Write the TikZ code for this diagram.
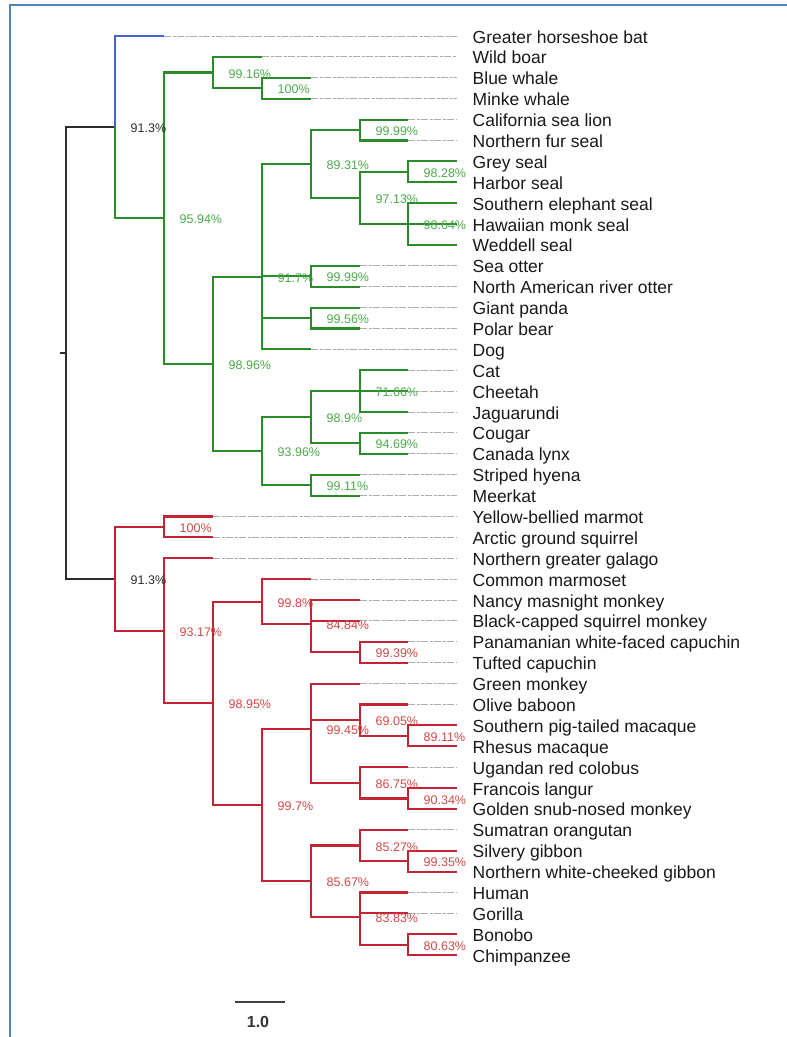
\documentclass[tikz,border=0pt]{standalone}
\usepackage{fontspec}
\setmainfont{Liberation Sans}
\definecolor{framecol}{RGB}{79,129,189}
\definecolor{kline}{RGB}{45,45,45}
\definecolor{bline}{RGB}{70,100,205}
\definecolor{gline}{RGB}{40,140,40}
\definecolor{gtext}{RGB}{75,170,75}
\definecolor{rline}{RGB}{195,35,50}
\definecolor{rtext}{RGB}{215,70,70}
\definecolor{leafcol}{RGB}{25,25,25}

\begin{document}
\begin{tikzpicture}[x=1pt,y=-1pt,
  branch/.style={line width=2.1pt},
  kbranch/.style={branch,draw=kline},
  bbranch/.style={branch,draw=bline},
  gbranch/.style={branch,draw=gline},
  rbranch/.style={branch,draw=rline},
  gap/.style={draw=gray!65,line width=1pt,dash pattern=on 7pt off 1.5pt on 3pt off 1.5pt},
  leaf/.style={anchor=west,inner xsep=15.5pt,inner ysep=0pt,text height=14pt,text depth=0pt,
    text=leafcol,font=\fontsize{17.5}{18}\selectfont},
  pct/.style={anchor=west,inner sep=0pt,xshift=15.5pt,yshift=-1pt,text height=9pt,text depth=0pt,
    font=\fontsize{12.5}{13}\selectfont},
  kpct/.style={pct,text=kline},
  gpct/.style={pct,text=gtext},
  rpct/.style={pct,text=rtext}]
\useasboundingbox (0,0) rectangle (787,1037);
\draw[framecol,line width=1.8pt] (787,5) -- (10,5) -- (10,1037);

% leaves: name/text/x of the end of the solid branch
\foreach \n/\lbl/\x [count=\i] in {
  bat/Greater horseshoe bat/164, boar/Wild boar/262, bluewhale/Blue whale/311,
  minke/Minke whale/311, calif/California sea lion/408, furseal/Northern fur seal/408,
  grey/Grey seal/457, harbor/Harbor seal/457, elephant/Southern elephant seal/457,
  monk/Hawaiian monk seal/457, weddell/Weddell seal/457, seaotter/Sea otter/360,
  riverotter/North American river otter/360, panda/Giant panda/360, polarbear/Polar bear/360,
  dog/Dog/311, cat/Cat/408, cheetah/Cheetah/408, jaguarundi/Jaguarundi/408,
  cougar/Cougar/408, lynx/Canada lynx/408, hyena/Striped hyena/360, meerkat/Meerkat/360,
  marmot/Yellow-bellied marmot/213, squirrel/Arctic ground squirrel/213,
  galago/Northern greater galago/213, marmoset/Common marmoset/311,
  nancy/Nancy masnight monkey/360, squirrelmonkey/Black-capped squirrel monkey/360,
  panamanian/Panamanian white-faced capuchin/408, tufted/Tufted capuchin/408,
  greenmonkey/Green monkey/360, baboon/Olive baboon/408,
  pigtailed/Southern pig-tailed macaque/457, rhesus/Rhesus macaque/457,
  colobus/Ugandan red colobus/408, langur/Francois langur/457,
  snubnosed/Golden snub-nosed monkey/457, orangutan/Sumatran orangutan/408,
  silvery/Silvery gibbon/457, whitecheeked/Northern white-cheeked gibbon/457,
  human/Human/408, gorilla/Gorilla/408, bonobo/Bonobo/457, chimp/Chimpanzee/457}{
  \node[leaf] (\n) at (457,{36+(\i-1)*20.89}) {\lbl};
  \coordinate (\n-tip) at (\x,{36+(\i-1)*20.89});
  \draw[gap] (\n-tip) -- (\n.west);
}

% branch points
\coordinate (stem) at (60,353);
\coordinate (root) at (66,353);
\coordinate (laur) at (115,127.2);
\coordinate (n95) at (164,218.3);
\coordinate (cetart) at (213,72.5);
\coordinate (whales) at (262,88.2);
\coordinate (carnivora) at (213,364);
\coordinate (caniform) at (262,276.9);
\coordinate (pinniped) at (311,164);
\coordinate (otariid) at (360,130);
\coordinate (phocid) at (360,197.9);
\coordinate (phocA) at (408,171.8);
\coordinate (phocB) at (408,224);
\coordinate (otters) at (311,276.2);
\coordinate (bears) at (311,318);
\coordinate (feliform) at (262,451.2);
\coordinate (felidae) at (311,417.2);
\coordinate (felA) at (360,391.1);
\coordinate (felB) at (360,443.4);
\coordinate (herpest) at (311,485.1);
\coordinate (euarch) at (115,578.9);
\coordinate (rodents) at (164,526.9);
\coordinate (primates) at (164,630.8);
\coordinate (anthro) at (213,703.4);
\coordinate (nwm) at (262,601.8);
\coordinate (cebid) at (311,624.4);
\coordinate (capuchin) at (360,652.3);
\coordinate (owm) at (262,805);
\coordinate (cerco) at (311,728.8);
\coordinate (papio) at (360,720.1);
\coordinate (macaca) at (408,735.8);
\coordinate (colob) at (360,782.8);
\coordinate (rhino) at (408,798.5);
\coordinate (hominoid) at (311,881.2);
\coordinate (hylo) at (360,845.5);
\coordinate (gibbons) at (408,861.2);
\coordinate (homin) at (360,916.9);
\coordinate (pan) at (408,944.7);

\draw[kbranch] (stem) -- (root);
\foreach \a/\b in {root/laur, root/euarch}
  \draw[kbranch] (\a) |- (\b);
\draw[bbranch] (laur) |- (bat-tip);
\foreach \a/\b in {laur/n95, n95/cetart, n95/carnivora, cetart/boar-tip, cetart/whales,
  whales/bluewhale-tip, whales/minke-tip, carnivora/caniform, carnivora/feliform,
  caniform/pinniped, caniform/otters, caniform/bears, caniform/dog-tip,
  pinniped/otariid, pinniped/phocid, otariid/calif-tip, otariid/furseal-tip,
  phocid/phocA, phocid/phocB, phocA/grey-tip, phocA/harbor-tip, phocB/elephant-tip,
  phocB/monk-tip, phocB/weddell-tip, otters/seaotter-tip, otters/riverotter-tip,
  bears/panda-tip, bears/polarbear-tip, feliform/felidae, feliform/herpest,
  felidae/felA, felidae/felB, felA/cat-tip, felA/cheetah-tip, felA/jaguarundi-tip,
  felB/cougar-tip, felB/lynx-tip, herpest/hyena-tip, herpest/meerkat-tip}
  \draw[gbranch] (\a) |- (\b);
\foreach \a/\b in {euarch/rodents, euarch/primates, rodents/marmot-tip, rodents/squirrel-tip,
  primates/galago-tip, primates/anthro, anthro/nwm, anthro/owm, nwm/marmoset-tip, nwm/cebid,
  cebid/nancy-tip, cebid/squirrelmonkey-tip, cebid/capuchin, capuchin/panamanian-tip,
  capuchin/tufted-tip, owm/cerco, owm/hominoid, cerco/greenmonkey-tip, cerco/papio,
  cerco/colob, papio/baboon-tip, papio/macaca, macaca/pigtailed-tip, macaca/rhesus-tip,
  colob/colobus-tip, colob/rhino, rhino/langur-tip, rhino/snubnosed-tip, hominoid/hylo,
  hominoid/homin, hylo/orangutan-tip, hylo/gibbons, gibbons/silvery-tip,
  gibbons/whitecheeked-tip, homin/human-tip, homin/gorilla-tip, homin/pan,
  pan/bonobo-tip, pan/chimp-tip}
  \draw[rbranch] (\a) |- (\b);

% support values
\foreach \n/\v in {laur/91.3, euarch/91.3}
  \node[kpct] (\n-bs) at (\n) {\v\%};
\foreach \n/\v in {n95/95.94, cetart/99.16, whales/100, carnivora/98.96, caniform/91.7,
  pinniped/89.31, otariid/99.99, phocid/97.13, phocA/98.28, phocB/98.64, otters/99.99,
  bears/99.56, feliform/93.96, felidae/98.9, felA/71.66, felB/94.69, herpest/99.11}
  \node[gpct] (\n-bs) at (\n) {\v\%};
\foreach \n/\v in {rodents/100, primates/93.17, anthro/98.95, nwm/99.8, cebid/84.84,
  capuchin/99.39, owm/99.7, cerco/99.45, papio/69.05, macaca/89.11, colob/86.75,
  rhino/90.34, hominoid/85.67, hylo/85.27, gibbons/99.35, homin/83.83, pan/80.63}
  \node[rpct] (\n-bs) at (\n) {\v\%};

% scale bar
\coordinate (bar-a) at (235,1002);
\coordinate (bar-b) at (285,1002);
\draw[line width=2.5pt,black!75] (bar-a) -- (bar-b);
\node[text=black!80,font=\bfseries\fontsize{16}{17}\selectfont] (bar-lbl) at (258,1022) {1.0};
\end{tikzpicture}
\end{document}
